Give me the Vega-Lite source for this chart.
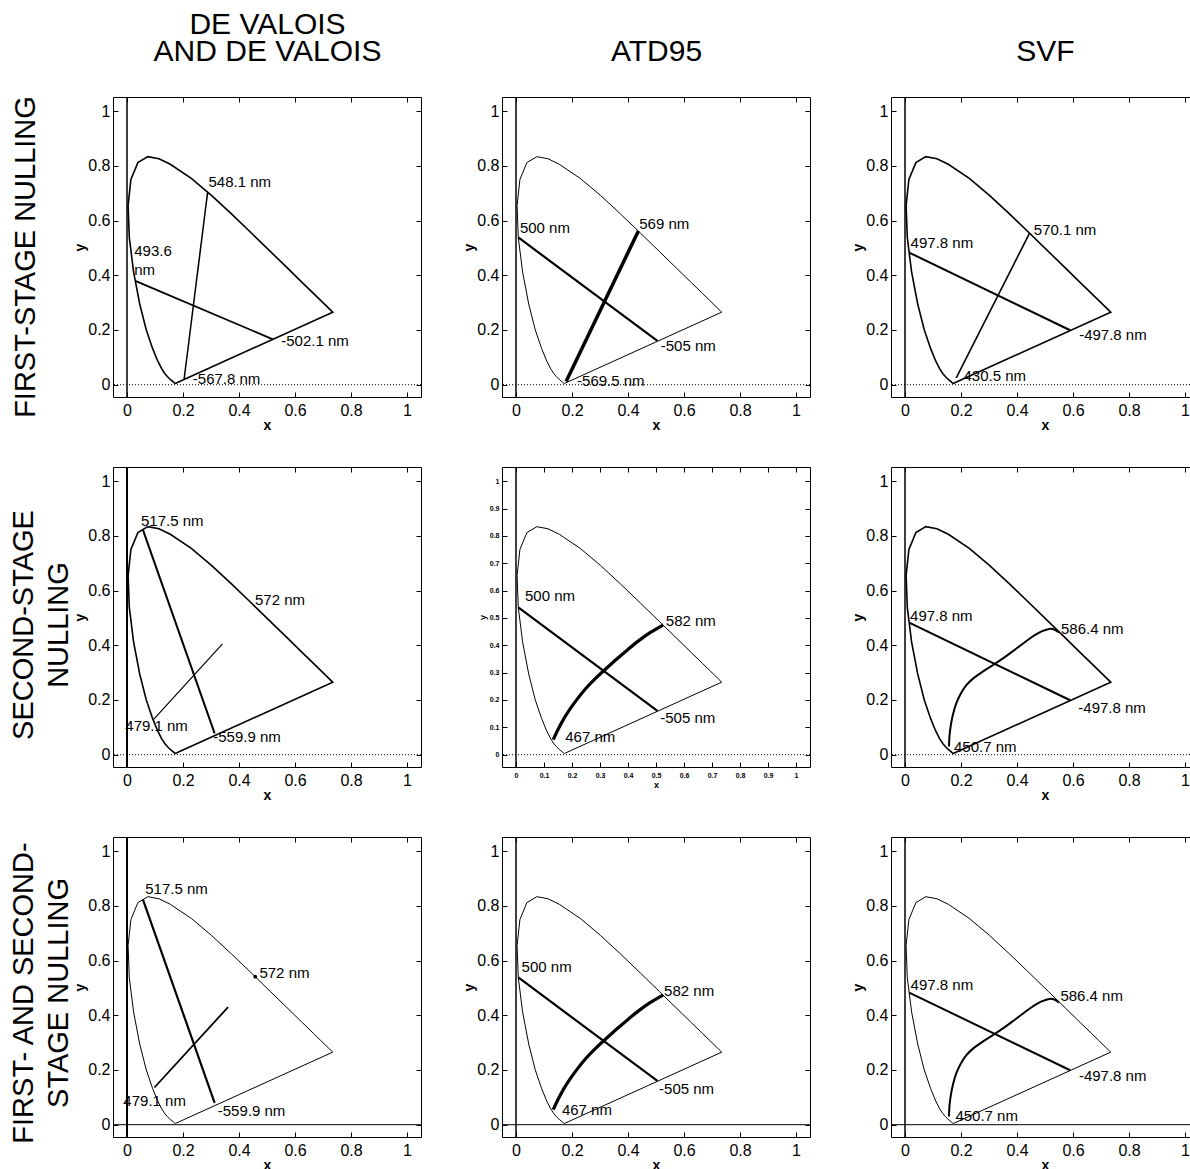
{
  "$schema": "https://vega.github.io/schema/vega-lite/v6.json",
  "background": "white",
  "padding": {"top": 9, "left": 9, "right": 0, "bottom": 0},
  "config": {
    "font": "Liberation Sans",
    "view": {"stroke": "black", "strokeWidth": 1},
    "axis": {"grid": false, "domain": false, "ticks": true, "tickColor": "black", "tickSize": -5, "tickWidth": 1,
      "labelColor": "black", "labelFont": "Liberation Sans", "labelFontSize": 16, "labelPadding": 10, "labelFlush": false, "labelOverlap": false,
      "titleFont": "Liberation Sans", "titleFontSize": 14, "titleFontWeight": "bold", "titleColor": "black", "titlePadding": 4},
    "axisLeft": {"labelPadding": 8, "titlePadding": 0},
    "axisBottom": {"titlePadding": 0},
    "title": {"font": "Liberation Sans", "fontSize": 29, "fontWeight": "normal", "color": "black", "lineHeight": 35}
  },
  "datasets": {
    "zero": [{"v": 0}],
    "locus": [
      {"order": 1, "wl": 380, "x": 0.1741, "y": 0.0050},
      {"order": 2, "wl": 400, "x": 0.1733, "y": 0.0048},
      {"order": 3, "wl": 420, "x": 0.1714, "y": 0.0051},
      {"order": 4, "wl": 430, "x": 0.1689, "y": 0.0069},
      {"order": 5, "wl": 440, "x": 0.1644, "y": 0.0109},
      {"order": 6, "wl": 450, "x": 0.1566, "y": 0.0177},
      {"order": 7, "wl": 455, "x": 0.1510, "y": 0.0227},
      {"order": 8, "wl": 460, "x": 0.1440, "y": 0.0297},
      {"order": 9, "wl": 465, "x": 0.1355, "y": 0.0399},
      {"order": 10, "wl": 470, "x": 0.1241, "y": 0.0578},
      {"order": 11, "wl": 475, "x": 0.1096, "y": 0.0868},
      {"order": 12, "wl": 480, "x": 0.0913, "y": 0.1327},
      {"order": 13, "wl": 485, "x": 0.0687, "y": 0.2007},
      {"order": 14, "wl": 490, "x": 0.0454, "y": 0.2950},
      {"order": 15, "wl": 495, "x": 0.0235, "y": 0.4127},
      {"order": 16, "wl": 500, "x": 0.0082, "y": 0.5384},
      {"order": 17, "wl": 505, "x": 0.0039, "y": 0.6548},
      {"order": 18, "wl": 510, "x": 0.0139, "y": 0.7502},
      {"order": 19, "wl": 515, "x": 0.0389, "y": 0.8120},
      {"order": 20, "wl": 520, "x": 0.0743, "y": 0.8338},
      {"order": 21, "wl": 525, "x": 0.1142, "y": 0.8262},
      {"order": 22, "wl": 530, "x": 0.1547, "y": 0.8059},
      {"order": 23, "wl": 540, "x": 0.2296, "y": 0.7543},
      {"order": 24, "wl": 550, "x": 0.3016, "y": 0.6923},
      {"order": 25, "wl": 560, "x": 0.3731, "y": 0.6245},
      {"order": 26, "wl": 570, "x": 0.4441, "y": 0.5547},
      {"order": 27, "wl": 580, "x": 0.5125, "y": 0.4866},
      {"order": 28, "wl": 590, "x": 0.5752, "y": 0.4242},
      {"order": 29, "wl": 600, "x": 0.6270, "y": 0.3725},
      {"order": 30, "wl": 610, "x": 0.6658, "y": 0.3340},
      {"order": 31, "wl": 620, "x": 0.6915, "y": 0.3083},
      {"order": 32, "wl": 640, "x": 0.7190, "y": 0.2809},
      {"order": 33, "wl": 660, "x": 0.7300, "y": 0.2700},
      {"order": 34, "wl": 700, "x": 0.7347, "y": 0.2653},
      {"order": 35, "wl": 380, "x": 0.1741, "y": 0.0050}
    ],
    "lines": [
      {"line": "dv1_a", "order": 1, "x": 0.0296, "y": 0.3797}, {"line": "dv1_a", "order": 2, "x": 0.521, "y": 0.166},
      {"line": "dv1_b", "order": 1, "x": 0.288, "y": 0.7045}, {"line": "dv1_b", "order": 2, "x": 0.204, "y": 0.020},
      {"line": "atd1_a", "order": 1, "x": 0.0082, "y": 0.5384}, {"line": "atd1_a", "order": 2, "x": 0.505, "y": 0.160},
      {"line": "atd1_b", "order": 1, "x": 0.437, "y": 0.562}, {"line": "atd1_b", "order": 2, "x": 0.179, "y": 0.012},
      {"line": "svf1_a", "order": 1, "x": 0.0149, "y": 0.4831}, {"line": "svf1_a", "order": 2, "x": 0.590, "y": 0.199},
      {"line": "svf1_b", "order": 1, "x": 0.4448, "y": 0.554}, {"line": "svf1_b", "order": 2, "x": 0.183, "y": 0.025},
      {"line": "dv2_a", "order": 1, "x": 0.0566, "y": 0.8229}, {"line": "dv2_a", "order": 2, "x": 0.313, "y": 0.078},
      {"line": "dv2_b", "order": 1, "x": 0.096, "y": 0.130}, {"line": "dv2_b", "order": 2, "x": 0.341, "y": 0.405},
      {"line": "atd2_a", "order": 1, "x": 0.0082, "y": 0.5384}, {"line": "atd2_a", "order": 2, "x": 0.505, "y": 0.160},
      {"line": "atd2_b", "order": 1, "x": 0.133, "y": 0.055},
      {"line": "atd2_b", "order": 2, "x": 0.150, "y": 0.092},
      {"line": "atd2_b", "order": 3, "x": 0.170, "y": 0.130},
      {"line": "atd2_b", "order": 4, "x": 0.195, "y": 0.170},
      {"line": "atd2_b", "order": 5, "x": 0.220, "y": 0.205},
      {"line": "atd2_b", "order": 6, "x": 0.250, "y": 0.243},
      {"line": "atd2_b", "order": 7, "x": 0.285, "y": 0.280},
      {"line": "atd2_b", "order": 8, "x": 0.322, "y": 0.315},
      {"line": "atd2_b", "order": 9, "x": 0.360, "y": 0.350},
      {"line": "atd2_b", "order": 10, "x": 0.400, "y": 0.385},
      {"line": "atd2_b", "order": 11, "x": 0.440, "y": 0.418},
      {"line": "atd2_b", "order": 12, "x": 0.480, "y": 0.447},
      {"line": "atd2_b", "order": 13, "x": 0.525, "y": 0.474},
      {"line": "svf2_a", "order": 1, "x": 0.0149, "y": 0.4831}, {"line": "svf2_a", "order": 2, "x": 0.590, "y": 0.199},
      {"line": "svf2_b", "order": 1, "x": 0.157, "y": 0.030},
      {"line": "svf2_b", "order": 2, "x": 0.159, "y": 0.070},
      {"line": "svf2_b", "order": 3, "x": 0.164, "y": 0.110},
      {"line": "svf2_b", "order": 4, "x": 0.172, "y": 0.150},
      {"line": "svf2_b", "order": 5, "x": 0.184, "y": 0.190},
      {"line": "svf2_b", "order": 6, "x": 0.200, "y": 0.225},
      {"line": "svf2_b", "order": 7, "x": 0.220, "y": 0.255},
      {"line": "svf2_b", "order": 8, "x": 0.245, "y": 0.280},
      {"line": "svf2_b", "order": 9, "x": 0.275, "y": 0.302},
      {"line": "svf2_b", "order": 10, "x": 0.310, "y": 0.325},
      {"line": "svf2_b", "order": 11, "x": 0.350, "y": 0.352},
      {"line": "svf2_b", "order": 12, "x": 0.390, "y": 0.382},
      {"line": "svf2_b", "order": 13, "x": 0.430, "y": 0.413},
      {"line": "svf2_b", "order": 14, "x": 0.465, "y": 0.438},
      {"line": "svf2_b", "order": 15, "x": 0.490, "y": 0.452},
      {"line": "svf2_b", "order": 16, "x": 0.515, "y": 0.460},
      {"line": "svf2_b", "order": 17, "x": 0.533, "y": 0.458},
      {"line": "svf2_b", "order": 18, "x": 0.550, "y": 0.447},
      {"line": "dv3_a", "order": 1, "x": 0.057, "y": 0.823}, {"line": "dv3_a", "order": 2, "x": 0.313, "y": 0.080},
      {"line": "dv3_b", "order": 1, "x": 0.098, "y": 0.136}, {"line": "dv3_b", "order": 2, "x": 0.361, "y": 0.430}
    ],
    "dots": [{"panel": "p7", "x": 0.458, "y": 0.541}],
    "labels": [
      {"panel": "p1", "text": "548.1 nm", "x": 0.291, "y": 0.740},
      {"panel": "p1", "text": "493.6", "x": 0.026, "y": 0.488},
      {"panel": "p1", "text": "nm", "x": 0.026, "y": 0.421},
      {"panel": "p1", "text": "-502.1 nm", "x": 0.551, "y": 0.161},
      {"panel": "p1", "text": "-567.8 nm", "x": 0.235, "y": 0.021},
      {"panel": "p2", "text": "500 nm", "x": 0.014, "y": 0.572},
      {"panel": "p2", "text": "569 nm", "x": 0.44, "y": 0.588},
      {"panel": "p2", "text": "-505 nm", "x": 0.517, "y": 0.140},
      {"panel": "p2", "text": "-569.5 nm", "x": 0.218, "y": 0.012},
      {"panel": "p3", "text": "570.1 nm", "x": 0.46, "y": 0.566},
      {"panel": "p3", "text": "497.8 nm", "x": 0.02, "y": 0.517},
      {"panel": "p3", "text": "-497.8 nm", "x": 0.622, "y": 0.182},
      {"panel": "p3", "text": "430.5 nm", "x": 0.209, "y": 0.033},
      {"panel": "p4", "text": "517.5 nm", "x": 0.05, "y": 0.854},
      {"panel": "p4", "text": "572 nm", "x": 0.457, "y": 0.566},
      {"panel": "p4", "text": "479.1 nm", "x": -0.006, "y": 0.106},
      {"panel": "p4", "text": "-559.9 nm", "x": 0.308, "y": 0.066},
      {"panel": "p5", "text": "500 nm", "x": 0.032, "y": 0.579},
      {"panel": "p5", "text": "582 nm", "x": 0.535, "y": 0.49},
      {"panel": "p5", "text": "-505 nm", "x": 0.515, "y": 0.136},
      {"panel": "p5", "text": "467 nm", "x": 0.176, "y": 0.063},
      {"panel": "p6", "text": "497.8 nm", "x": 0.018, "y": 0.506},
      {"panel": "p6", "text": "586.4 nm", "x": 0.557, "y": 0.46},
      {"panel": "p6", "text": "-497.8 nm", "x": 0.619, "y": 0.171},
      {"panel": "p6", "text": "450.7 nm", "x": 0.175, "y": 0.027},
      {"panel": "p7", "text": "517.5 nm", "x": 0.065, "y": 0.863},
      {"panel": "p7", "text": "572 nm", "x": 0.473, "y": 0.555},
      {"panel": "p7", "text": "479.1 nm", "x": -0.013, "y": 0.085},
      {"panel": "p7", "text": "-559.9 nm", "x": 0.324, "y": 0.049},
      {"panel": "p8", "text": "500 nm", "x": 0.02, "y": 0.577},
      {"panel": "p8", "text": "582 nm", "x": 0.529, "y": 0.488},
      {"panel": "p8", "text": "-505 nm", "x": 0.511, "y": 0.130},
      {"panel": "p8", "text": "467 nm", "x": 0.164, "y": 0.055},
      {"panel": "p9", "text": "497.8 nm", "x": 0.02, "y": 0.512},
      {"panel": "p9", "text": "586.4 nm", "x": 0.555, "y": 0.469},
      {"panel": "p9", "text": "-497.8 nm", "x": 0.621, "y": 0.179},
      {"panel": "p9", "text": "450.7 nm", "x": 0.18, "y": 0.03}
    ]
  },
  "columns": 3,
  "bounds": "flush",
  "spacing": {"row": 70, "column": 81},
  "concat": [
    {
      "width": 308, "height": 300,
      "title": {"text": "FIRST-STAGE NULLING", "orient": "left", "frame": "group", "anchor": "middle", "offset": 33, "dx": -10},
      "layer": [
        {"data": {"name": "locus"}, "mark": {"type": "line", "color": "black", "strokeWidth": 1.6},
         "encoding": {"x": {"field": "x", "type": "quantitative", "scale": {"domain": [-0.05, 1.05], "nice": false, "zero": false}, "axis": {"orient": "bottom", "values": [0, 0.2, 0.4, 0.6, 0.8, 1], "format": "~g", "title": "x"}},
                      "y": {"field": "y", "type": "quantitative", "scale": {"domain": [-0.045, 1.052], "nice": false, "zero": false}, "axis": {"orient": "left", "values": [0, 0.2, 0.4, 0.6, 0.8, 1], "format": "~g", "title": "y"}},
                      "order": {"field": "order"}}},
        {"data": {"name": "zero"}, "mark": {"type": "rule", "color": "black", "strokeWidth": 1.5},
         "encoding": {"x": {"field": "v", "type": "quantitative", "scale": {"domain": [-0.05, 1.05], "nice": false, "zero": false}, "axis": {"orient": "top", "values": [0, 0.2, 0.4, 0.6, 0.8, 1], "labels": false, "title": ["DE VALOIS", "AND DE VALOIS"], "titleFontSize": 30, "titleFontWeight": "normal", "titleLineHeight": 27, "titlePadding": 30}}}},
        {"data": {"name": "zero"}, "mark": {"type": "rule", "color": "black", "strokeWidth": 1, "strokeDash": [1, 2]},
         "encoding": {"y": {"field": "v", "type": "quantitative", "scale": {"domain": [-0.045, 1.052], "nice": false, "zero": false}, "axis": {"orient": "right", "values": [0, 0.2, 0.4, 0.6, 0.8, 1], "labels": false, "title": null}}}},
        {"data": {"name": "lines"}, "transform": [{"filter": "datum.line == 'dv1_a'"}], "mark": {"type": "line", "color": "black", "strokeWidth": 1.8},
         "encoding": {"x": {"field": "x", "type": "quantitative", "scale": {"domain": [-0.05, 1.05], "nice": false, "zero": false}, "axis": null}, "y": {"field": "y", "type": "quantitative", "scale": {"domain": [-0.045, 1.052], "nice": false, "zero": false}, "axis": null}, "order": {"field": "order"}}},
        {"data": {"name": "lines"}, "transform": [{"filter": "datum.line == 'dv1_b'"}], "mark": {"type": "line", "color": "black", "strokeWidth": 1.5},
         "encoding": {"x": {"field": "x", "type": "quantitative", "scale": {"domain": [-0.05, 1.05], "nice": false, "zero": false}, "axis": null}, "y": {"field": "y", "type": "quantitative", "scale": {"domain": [-0.045, 1.052], "nice": false, "zero": false}, "axis": null}, "order": {"field": "order"}}},
        {"data": {"name": "labels"}, "transform": [{"filter": "datum.panel == 'p1'"}], "mark": {"type": "text", "align": "left", "baseline": "middle", "fontSize": 15, "color": "black"},
         "encoding": {"x": {"field": "x", "type": "quantitative", "scale": {"domain": [-0.05, 1.05], "nice": false, "zero": false}, "axis": null}, "y": {"field": "y", "type": "quantitative", "scale": {"domain": [-0.045, 1.052], "nice": false, "zero": false}, "axis": null}, "text": {"field": "text"}}}
      ],
      "resolve": {"axis": {"x": "independent", "y": "independent"}}
    },
    {
      "width": 308, "height": 300,
      "layer": [
        {"data": {"name": "locus"}, "mark": {"type": "line", "color": "black", "strokeWidth": 1},
         "encoding": {"x": {"field": "x", "type": "quantitative", "scale": {"domain": [-0.05, 1.05], "nice": false, "zero": false}, "axis": {"orient": "bottom", "values": [0, 0.2, 0.4, 0.6, 0.8, 1], "format": "~g", "title": "x"}},
                      "y": {"field": "y", "type": "quantitative", "scale": {"domain": [-0.045, 1.052], "nice": false, "zero": false}, "axis": {"orient": "left", "values": [0, 0.2, 0.4, 0.6, 0.8, 1], "format": "~g", "title": "y"}},
                      "order": {"field": "order"}}},
        {"data": {"name": "zero"}, "mark": {"type": "rule", "color": "black", "strokeWidth": 1.5},
         "encoding": {"x": {"field": "v", "type": "quantitative", "scale": {"domain": [-0.05, 1.05], "nice": false, "zero": false}, "axis": {"orient": "top", "values": [0, 0.2, 0.4, 0.6, 0.8, 1], "labels": false, "title": "ATD95", "titleFontSize": 30, "titleFontWeight": "normal", "titleLineHeight": 27, "titlePadding": 30}}}},
        {"data": {"name": "zero"}, "mark": {"type": "rule", "color": "black", "strokeWidth": 1, "strokeDash": [1, 2]},
         "encoding": {"y": {"field": "v", "type": "quantitative", "scale": {"domain": [-0.045, 1.052], "nice": false, "zero": false}, "axis": {"orient": "right", "values": [0, 0.2, 0.4, 0.6, 0.8, 1], "labels": false, "title": null}}}},
        {"data": {"name": "lines"}, "transform": [{"filter": "datum.line == 'atd1_a'"}], "mark": {"type": "line", "color": "black", "strokeWidth": 2.2},
         "encoding": {"x": {"field": "x", "type": "quantitative", "scale": {"domain": [-0.05, 1.05], "nice": false, "zero": false}, "axis": null}, "y": {"field": "y", "type": "quantitative", "scale": {"domain": [-0.045, 1.052], "nice": false, "zero": false}, "axis": null}, "order": {"field": "order"}}},
        {"data": {"name": "lines"}, "transform": [{"filter": "datum.line == 'atd1_b'"}], "mark": {"type": "line", "color": "black", "strokeWidth": 3.5},
         "encoding": {"x": {"field": "x", "type": "quantitative", "scale": {"domain": [-0.05, 1.05], "nice": false, "zero": false}, "axis": null}, "y": {"field": "y", "type": "quantitative", "scale": {"domain": [-0.045, 1.052], "nice": false, "zero": false}, "axis": null}, "order": {"field": "order"}}},
        {"data": {"name": "labels"}, "transform": [{"filter": "datum.panel == 'p2'"}], "mark": {"type": "text", "align": "left", "baseline": "middle", "fontSize": 15, "color": "black"},
         "encoding": {"x": {"field": "x", "type": "quantitative", "scale": {"domain": [-0.05, 1.05], "nice": false, "zero": false}, "axis": null}, "y": {"field": "y", "type": "quantitative", "scale": {"domain": [-0.045, 1.052], "nice": false, "zero": false}, "axis": null}, "text": {"field": "text"}}}
      ],
      "resolve": {"axis": {"x": "independent", "y": "independent"}}
    },
    {
      "width": 308, "height": 300,
      "layer": [
        {"data": {"name": "locus"}, "mark": {"type": "line", "color": "black", "strokeWidth": 1.6},
         "encoding": {"x": {"field": "x", "type": "quantitative", "scale": {"domain": [-0.05, 1.05], "nice": false, "zero": false}, "axis": {"orient": "bottom", "values": [0, 0.2, 0.4, 0.6, 0.8, 1], "format": "~g", "title": "x"}},
                      "y": {"field": "y", "type": "quantitative", "scale": {"domain": [-0.045, 1.052], "nice": false, "zero": false}, "axis": {"orient": "left", "values": [0, 0.2, 0.4, 0.6, 0.8, 1], "format": "~g", "title": "y"}},
                      "order": {"field": "order"}}},
        {"data": {"name": "zero"}, "mark": {"type": "rule", "color": "black", "strokeWidth": 1.5},
         "encoding": {"x": {"field": "v", "type": "quantitative", "scale": {"domain": [-0.05, 1.05], "nice": false, "zero": false}, "axis": {"orient": "top", "values": [0, 0.2, 0.4, 0.6, 0.8, 1], "labels": false, "title": "SVF", "titleFontSize": 30, "titleFontWeight": "normal", "titleLineHeight": 27, "titlePadding": 30}}}},
        {"data": {"name": "zero"}, "mark": {"type": "rule", "color": "black", "strokeWidth": 1, "strokeDash": [1, 2]},
         "encoding": {"y": {"field": "v", "type": "quantitative", "scale": {"domain": [-0.045, 1.052], "nice": false, "zero": false}, "axis": {"orient": "right", "values": [0, 0.2, 0.4, 0.6, 0.8, 1], "labels": false, "title": null}}}},
        {"data": {"name": "lines"}, "transform": [{"filter": "datum.line == 'svf1_a'"}], "mark": {"type": "line", "color": "black", "strokeWidth": 2},
         "encoding": {"x": {"field": "x", "type": "quantitative", "scale": {"domain": [-0.05, 1.05], "nice": false, "zero": false}, "axis": null}, "y": {"field": "y", "type": "quantitative", "scale": {"domain": [-0.045, 1.052], "nice": false, "zero": false}, "axis": null}, "order": {"field": "order"}}},
        {"data": {"name": "lines"}, "transform": [{"filter": "datum.line == 'svf1_b'"}], "mark": {"type": "line", "color": "black", "strokeWidth": 1.6},
         "encoding": {"x": {"field": "x", "type": "quantitative", "scale": {"domain": [-0.05, 1.05], "nice": false, "zero": false}, "axis": null}, "y": {"field": "y", "type": "quantitative", "scale": {"domain": [-0.045, 1.052], "nice": false, "zero": false}, "axis": null}, "order": {"field": "order"}}},
        {"data": {"name": "labels"}, "transform": [{"filter": "datum.panel == 'p3'"}], "mark": {"type": "text", "align": "left", "baseline": "middle", "fontSize": 15, "color": "black"},
         "encoding": {"x": {"field": "x", "type": "quantitative", "scale": {"domain": [-0.05, 1.05], "nice": false, "zero": false}, "axis": null}, "y": {"field": "y", "type": "quantitative", "scale": {"domain": [-0.045, 1.052], "nice": false, "zero": false}, "axis": null}, "text": {"field": "text"}}}
      ],
      "resolve": {"axis": {"x": "independent", "y": "independent"}}
    },
    {
      "width": 308, "height": 300,
      "title": {"text": ["SECOND-STAGE", "NULLING"], "orient": "left", "frame": "group", "anchor": "middle", "offset": 0, "dx": -8},
      "layer": [
        {"data": {"name": "locus"}, "mark": {"type": "line", "color": "black", "strokeWidth": 1.6},
         "encoding": {"x": {"field": "x", "type": "quantitative", "scale": {"domain": [-0.05, 1.05], "nice": false, "zero": false}, "axis": {"orient": "bottom", "values": [0, 0.2, 0.4, 0.6, 0.8, 1], "format": "~g", "title": "x"}},
                      "y": {"field": "y", "type": "quantitative", "scale": {"domain": [-0.045, 1.052], "nice": false, "zero": false}, "axis": {"orient": "left", "values": [0, 0.2, 0.4, 0.6, 0.8, 1], "format": "~g", "title": "y"}},
                      "order": {"field": "order"}}},
        {"data": {"name": "zero"}, "mark": {"type": "rule", "color": "black", "strokeWidth": 2},
         "encoding": {"x": {"field": "v", "type": "quantitative", "scale": {"domain": [-0.05, 1.05], "nice": false, "zero": false}, "axis": {"orient": "top", "values": [0, 0.2, 0.4, 0.6, 0.8, 1], "labels": false, "title": null}}}},
        {"data": {"name": "zero"}, "mark": {"type": "rule", "color": "black", "strokeWidth": 1, "strokeDash": [1, 2]},
         "encoding": {"y": {"field": "v", "type": "quantitative", "scale": {"domain": [-0.045, 1.052], "nice": false, "zero": false}, "axis": {"orient": "right", "values": [0, 0.2, 0.4, 0.6, 0.8, 1], "labels": false, "title": null}}}},
        {"data": {"name": "lines"}, "transform": [{"filter": "datum.line == 'dv2_a'"}], "mark": {"type": "line", "color": "black", "strokeWidth": 2},
         "encoding": {"x": {"field": "x", "type": "quantitative", "scale": {"domain": [-0.05, 1.05], "nice": false, "zero": false}, "axis": null}, "y": {"field": "y", "type": "quantitative", "scale": {"domain": [-0.045, 1.052], "nice": false, "zero": false}, "axis": null}, "order": {"field": "order"}}},
        {"data": {"name": "lines"}, "transform": [{"filter": "datum.line == 'dv2_b'"}], "mark": {"type": "line", "color": "black", "strokeWidth": 1.2},
         "encoding": {"x": {"field": "x", "type": "quantitative", "scale": {"domain": [-0.05, 1.05], "nice": false, "zero": false}, "axis": null}, "y": {"field": "y", "type": "quantitative", "scale": {"domain": [-0.045, 1.052], "nice": false, "zero": false}, "axis": null}, "order": {"field": "order"}}},
        {"data": {"name": "labels"}, "transform": [{"filter": "datum.panel == 'p4'"}], "mark": {"type": "text", "align": "left", "baseline": "middle", "fontSize": 15, "color": "black"},
         "encoding": {"x": {"field": "x", "type": "quantitative", "scale": {"domain": [-0.05, 1.05], "nice": false, "zero": false}, "axis": null}, "y": {"field": "y", "type": "quantitative", "scale": {"domain": [-0.045, 1.052], "nice": false, "zero": false}, "axis": null}, "text": {"field": "text"}}}
      ],
      "resolve": {"axis": {"x": "independent", "y": "independent"}}
    },
    {
      "width": 308, "height": 300,
      "layer": [
        {"data": {"name": "locus"}, "mark": {"type": "line", "color": "black", "strokeWidth": 1},
         "encoding": {"x": {"field": "x", "type": "quantitative", "scale": {"domain": [-0.05, 1.05], "nice": false, "zero": false}, "axis": {"orient": "bottom", "values": [0, 0.1, 0.2, 0.3, 0.4, 0.5, 0.6, 0.7, 0.8, 0.9, 1], "format": "~g", "title": "x", "labelFontSize": 7, "labelFontWeight": "bold", "labelPadding": 9, "titleFontSize": 9, "titlePadding": 2}},
                      "y": {"field": "y", "type": "quantitative", "scale": {"domain": [-0.045, 1.052], "nice": false, "zero": false}, "axis": {"orient": "left", "values": [0, 0.1, 0.2, 0.3, 0.4, 0.5, 0.6, 0.7, 0.8, 0.9, 1], "format": "~g", "title": "y", "labelFontSize": 7, "labelFontWeight": "bold", "labelPadding": 8, "titleFontSize": 9, "titlePadding": 2}},
                      "order": {"field": "order"}}},
        {"data": {"name": "zero"}, "mark": {"type": "rule", "color": "black", "strokeWidth": 1.5},
         "encoding": {"x": {"field": "v", "type": "quantitative", "scale": {"domain": [-0.05, 1.05], "nice": false, "zero": false}, "axis": {"orient": "top", "values": [0, 0.1, 0.2, 0.3, 0.4, 0.5, 0.6, 0.7, 0.8, 0.9, 1], "labels": false, "title": null}}}},
        {"data": {"name": "zero"}, "mark": {"type": "rule", "color": "black", "strokeWidth": 1, "strokeDash": [1, 2]},
         "encoding": {"y": {"field": "v", "type": "quantitative", "scale": {"domain": [-0.045, 1.052], "nice": false, "zero": false}, "axis": {"orient": "right", "values": [0, 0.1, 0.2, 0.3, 0.4, 0.5, 0.6, 0.7, 0.8, 0.9, 1], "labels": false, "title": null}}}},
        {"data": {"name": "lines"}, "transform": [{"filter": "datum.line == 'atd2_a'"}], "mark": {"type": "line", "color": "black", "strokeWidth": 2.2},
         "encoding": {"x": {"field": "x", "type": "quantitative", "scale": {"domain": [-0.05, 1.05], "nice": false, "zero": false}, "axis": null}, "y": {"field": "y", "type": "quantitative", "scale": {"domain": [-0.045, 1.052], "nice": false, "zero": false}, "axis": null}, "order": {"field": "order"}}},
        {"data": {"name": "lines"}, "transform": [{"filter": "datum.line == 'atd2_b'"}], "mark": {"type": "line", "color": "black", "strokeWidth": 3.2, "interpolate": "catmull-rom"},
         "encoding": {"x": {"field": "x", "type": "quantitative", "scale": {"domain": [-0.05, 1.05], "nice": false, "zero": false}, "axis": null}, "y": {"field": "y", "type": "quantitative", "scale": {"domain": [-0.045, 1.052], "nice": false, "zero": false}, "axis": null}, "order": {"field": "order"}}},
        {"data": {"name": "labels"}, "transform": [{"filter": "datum.panel == 'p5'"}], "mark": {"type": "text", "align": "left", "baseline": "middle", "fontSize": 15, "color": "black"},
         "encoding": {"x": {"field": "x", "type": "quantitative", "scale": {"domain": [-0.05, 1.05], "nice": false, "zero": false}, "axis": null}, "y": {"field": "y", "type": "quantitative", "scale": {"domain": [-0.045, 1.052], "nice": false, "zero": false}, "axis": null}, "text": {"field": "text"}}}
      ],
      "resolve": {"axis": {"x": "independent", "y": "independent"}}
    },
    {
      "width": 308, "height": 300,
      "layer": [
        {"data": {"name": "locus"}, "mark": {"type": "line", "color": "black", "strokeWidth": 1.6},
         "encoding": {"x": {"field": "x", "type": "quantitative", "scale": {"domain": [-0.05, 1.05], "nice": false, "zero": false}, "axis": {"orient": "bottom", "values": [0, 0.2, 0.4, 0.6, 0.8, 1], "format": "~g", "title": "x"}},
                      "y": {"field": "y", "type": "quantitative", "scale": {"domain": [-0.045, 1.052], "nice": false, "zero": false}, "axis": {"orient": "left", "values": [0, 0.2, 0.4, 0.6, 0.8, 1], "format": "~g", "title": "y"}},
                      "order": {"field": "order"}}},
        {"data": {"name": "zero"}, "mark": {"type": "rule", "color": "black", "strokeWidth": 1.5},
         "encoding": {"x": {"field": "v", "type": "quantitative", "scale": {"domain": [-0.05, 1.05], "nice": false, "zero": false}, "axis": {"orient": "top", "values": [0, 0.2, 0.4, 0.6, 0.8, 1], "labels": false, "title": null}}}},
        {"data": {"name": "zero"}, "mark": {"type": "rule", "color": "black", "strokeWidth": 1, "strokeDash": [1, 2]},
         "encoding": {"y": {"field": "v", "type": "quantitative", "scale": {"domain": [-0.045, 1.052], "nice": false, "zero": false}, "axis": {"orient": "right", "values": [0, 0.2, 0.4, 0.6, 0.8, 1], "labels": false, "title": null}}}},
        {"data": {"name": "lines"}, "transform": [{"filter": "datum.line == 'svf2_a'"}], "mark": {"type": "line", "color": "black", "strokeWidth": 2},
         "encoding": {"x": {"field": "x", "type": "quantitative", "scale": {"domain": [-0.05, 1.05], "nice": false, "zero": false}, "axis": null}, "y": {"field": "y", "type": "quantitative", "scale": {"domain": [-0.045, 1.052], "nice": false, "zero": false}, "axis": null}, "order": {"field": "order"}}},
        {"data": {"name": "lines"}, "transform": [{"filter": "datum.line == 'svf2_b'"}], "mark": {"type": "line", "color": "black", "strokeWidth": 2, "interpolate": "catmull-rom"},
         "encoding": {"x": {"field": "x", "type": "quantitative", "scale": {"domain": [-0.05, 1.05], "nice": false, "zero": false}, "axis": null}, "y": {"field": "y", "type": "quantitative", "scale": {"domain": [-0.045, 1.052], "nice": false, "zero": false}, "axis": null}, "order": {"field": "order"}}},
        {"data": {"name": "labels"}, "transform": [{"filter": "datum.panel == 'p6'"}], "mark": {"type": "text", "align": "left", "baseline": "middle", "fontSize": 15, "color": "black"},
         "encoding": {"x": {"field": "x", "type": "quantitative", "scale": {"domain": [-0.05, 1.05], "nice": false, "zero": false}, "axis": null}, "y": {"field": "y", "type": "quantitative", "scale": {"domain": [-0.045, 1.052], "nice": false, "zero": false}, "axis": null}, "text": {"field": "text"}}}
      ],
      "resolve": {"axis": {"x": "independent", "y": "independent"}}
    },
    {
      "width": 308, "height": 300,
      "title": {"text": ["FIRST- AND SECOND-", "STAGE NULLING"], "orient": "left", "frame": "group", "anchor": "middle", "offset": 0, "dx": -6},
      "layer": [
        {"data": {"name": "locus"}, "mark": {"type": "line", "color": "black", "strokeWidth": 1},
         "encoding": {"x": {"field": "x", "type": "quantitative", "scale": {"domain": [-0.05, 1.05], "nice": false, "zero": false}, "axis": {"orient": "bottom", "values": [0, 0.2, 0.4, 0.6, 0.8, 1], "format": "~g", "title": "x"}},
                      "y": {"field": "y", "type": "quantitative", "scale": {"domain": [-0.045, 1.052], "nice": false, "zero": false}, "axis": {"orient": "left", "values": [0, 0.2, 0.4, 0.6, 0.8, 1], "format": "~g", "title": "y"}},
                      "order": {"field": "order"}}},
        {"data": {"name": "zero"}, "mark": {"type": "rule", "color": "black", "strokeWidth": 2},
         "encoding": {"x": {"field": "v", "type": "quantitative", "scale": {"domain": [-0.05, 1.05], "nice": false, "zero": false}, "axis": {"orient": "top", "values": [0, 0.2, 0.4, 0.6, 0.8, 1], "labels": false, "title": null}}}},
        {"data": {"name": "zero"}, "mark": {"type": "rule", "color": "black", "strokeWidth": 1},
         "encoding": {"y": {"field": "v", "type": "quantitative", "scale": {"domain": [-0.045, 1.052], "nice": false, "zero": false}, "axis": {"orient": "right", "values": [0, 0.2, 0.4, 0.6, 0.8, 1], "labels": false, "title": null}}}},
        {"data": {"name": "lines"}, "transform": [{"filter": "datum.line == 'dv3_a'"}], "mark": {"type": "line", "color": "black", "strokeWidth": 2.2},
         "encoding": {"x": {"field": "x", "type": "quantitative", "scale": {"domain": [-0.05, 1.05], "nice": false, "zero": false}, "axis": null}, "y": {"field": "y", "type": "quantitative", "scale": {"domain": [-0.045, 1.052], "nice": false, "zero": false}, "axis": null}, "order": {"field": "order"}}},
        {"data": {"name": "lines"}, "transform": [{"filter": "datum.line == 'dv3_b'"}], "mark": {"type": "line", "color": "black", "strokeWidth": 1.8},
         "encoding": {"x": {"field": "x", "type": "quantitative", "scale": {"domain": [-0.05, 1.05], "nice": false, "zero": false}, "axis": null}, "y": {"field": "y", "type": "quantitative", "scale": {"domain": [-0.045, 1.052], "nice": false, "zero": false}, "axis": null}, "order": {"field": "order"}}},
        {"data": {"name": "dots"}, "mark": {"type": "point", "filled": true, "color": "black", "size": 14, "opacity": 1},
         "encoding": {"x": {"field": "x", "type": "quantitative", "scale": {"domain": [-0.05, 1.05], "nice": false, "zero": false}, "axis": null}, "y": {"field": "y", "type": "quantitative", "scale": {"domain": [-0.045, 1.052], "nice": false, "zero": false}, "axis": null}}},
        {"data": {"name": "labels"}, "transform": [{"filter": "datum.panel == 'p7'"}], "mark": {"type": "text", "align": "left", "baseline": "middle", "fontSize": 15, "color": "black"},
         "encoding": {"x": {"field": "x", "type": "quantitative", "scale": {"domain": [-0.05, 1.05], "nice": false, "zero": false}, "axis": null}, "y": {"field": "y", "type": "quantitative", "scale": {"domain": [-0.045, 1.052], "nice": false, "zero": false}, "axis": null}, "text": {"field": "text"}}}
      ],
      "resolve": {"axis": {"x": "independent", "y": "independent"}}
    },
    {
      "width": 308, "height": 300,
      "layer": [
        {"data": {"name": "locus"}, "mark": {"type": "line", "color": "black", "strokeWidth": 1},
         "encoding": {"x": {"field": "x", "type": "quantitative", "scale": {"domain": [-0.05, 1.05], "nice": false, "zero": false}, "axis": {"orient": "bottom", "values": [0, 0.2, 0.4, 0.6, 0.8, 1], "format": "~g", "title": "x"}},
                      "y": {"field": "y", "type": "quantitative", "scale": {"domain": [-0.045, 1.052], "nice": false, "zero": false}, "axis": {"orient": "left", "values": [0, 0.2, 0.4, 0.6, 0.8, 1], "format": "~g", "title": "y"}},
                      "order": {"field": "order"}}},
        {"data": {"name": "zero"}, "mark": {"type": "rule", "color": "black", "strokeWidth": 1.5},
         "encoding": {"x": {"field": "v", "type": "quantitative", "scale": {"domain": [-0.05, 1.05], "nice": false, "zero": false}, "axis": {"orient": "top", "values": [0, 0.2, 0.4, 0.6, 0.8, 1], "labels": false, "title": null}}}},
        {"data": {"name": "zero"}, "mark": {"type": "rule", "color": "black", "strokeWidth": 1},
         "encoding": {"y": {"field": "v", "type": "quantitative", "scale": {"domain": [-0.045, 1.052], "nice": false, "zero": false}, "axis": {"orient": "right", "values": [0, 0.2, 0.4, 0.6, 0.8, 1], "labels": false, "title": null}}}},
        {"data": {"name": "lines"}, "transform": [{"filter": "datum.line == 'atd2_a'"}], "mark": {"type": "line", "color": "black", "strokeWidth": 2.2},
         "encoding": {"x": {"field": "x", "type": "quantitative", "scale": {"domain": [-0.05, 1.05], "nice": false, "zero": false}, "axis": null}, "y": {"field": "y", "type": "quantitative", "scale": {"domain": [-0.045, 1.052], "nice": false, "zero": false}, "axis": null}, "order": {"field": "order"}}},
        {"data": {"name": "lines"}, "transform": [{"filter": "datum.line == 'atd2_b'"}], "mark": {"type": "line", "color": "black", "strokeWidth": 3.2, "interpolate": "catmull-rom"},
         "encoding": {"x": {"field": "x", "type": "quantitative", "scale": {"domain": [-0.05, 1.05], "nice": false, "zero": false}, "axis": null}, "y": {"field": "y", "type": "quantitative", "scale": {"domain": [-0.045, 1.052], "nice": false, "zero": false}, "axis": null}, "order": {"field": "order"}}},
        {"data": {"name": "labels"}, "transform": [{"filter": "datum.panel == 'p8'"}], "mark": {"type": "text", "align": "left", "baseline": "middle", "fontSize": 15, "color": "black"},
         "encoding": {"x": {"field": "x", "type": "quantitative", "scale": {"domain": [-0.05, 1.05], "nice": false, "zero": false}, "axis": null}, "y": {"field": "y", "type": "quantitative", "scale": {"domain": [-0.045, 1.052], "nice": false, "zero": false}, "axis": null}, "text": {"field": "text"}}}
      ],
      "resolve": {"axis": {"x": "independent", "y": "independent"}}
    },
    {
      "width": 308, "height": 300,
      "layer": [
        {"data": {"name": "locus"}, "mark": {"type": "line", "color": "black", "strokeWidth": 1},
         "encoding": {"x": {"field": "x", "type": "quantitative", "scale": {"domain": [-0.05, 1.05], "nice": false, "zero": false}, "axis": {"orient": "bottom", "values": [0, 0.2, 0.4, 0.6, 0.8, 1], "format": "~g", "title": "x"}},
                      "y": {"field": "y", "type": "quantitative", "scale": {"domain": [-0.045, 1.052], "nice": false, "zero": false}, "axis": {"orient": "left", "values": [0, 0.2, 0.4, 0.6, 0.8, 1], "format": "~g", "title": "y"}},
                      "order": {"field": "order"}}},
        {"data": {"name": "zero"}, "mark": {"type": "rule", "color": "black", "strokeWidth": 1.5},
         "encoding": {"x": {"field": "v", "type": "quantitative", "scale": {"domain": [-0.05, 1.05], "nice": false, "zero": false}, "axis": {"orient": "top", "values": [0, 0.2, 0.4, 0.6, 0.8, 1], "labels": false, "title": null}}}},
        {"data": {"name": "zero"}, "mark": {"type": "rule", "color": "black", "strokeWidth": 1},
         "encoding": {"y": {"field": "v", "type": "quantitative", "scale": {"domain": [-0.045, 1.052], "nice": false, "zero": false}, "axis": {"orient": "right", "values": [0, 0.2, 0.4, 0.6, 0.8, 1], "labels": false, "title": null}}}},
        {"data": {"name": "lines"}, "transform": [{"filter": "datum.line == 'svf2_a'"}], "mark": {"type": "line", "color": "black", "strokeWidth": 2},
         "encoding": {"x": {"field": "x", "type": "quantitative", "scale": {"domain": [-0.05, 1.05], "nice": false, "zero": false}, "axis": null}, "y": {"field": "y", "type": "quantitative", "scale": {"domain": [-0.045, 1.052], "nice": false, "zero": false}, "axis": null}, "order": {"field": "order"}}},
        {"data": {"name": "lines"}, "transform": [{"filter": "datum.line == 'svf2_b'"}], "mark": {"type": "line", "color": "black", "strokeWidth": 2, "interpolate": "catmull-rom"},
         "encoding": {"x": {"field": "x", "type": "quantitative", "scale": {"domain": [-0.05, 1.05], "nice": false, "zero": false}, "axis": null}, "y": {"field": "y", "type": "quantitative", "scale": {"domain": [-0.045, 1.052], "nice": false, "zero": false}, "axis": null}, "order": {"field": "order"}}},
        {"data": {"name": "labels"}, "transform": [{"filter": "datum.panel == 'p9'"}], "mark": {"type": "text", "align": "left", "baseline": "middle", "fontSize": 15, "color": "black"},
         "encoding": {"x": {"field": "x", "type": "quantitative", "scale": {"domain": [-0.05, 1.05], "nice": false, "zero": false}, "axis": null}, "y": {"field": "y", "type": "quantitative", "scale": {"domain": [-0.045, 1.052], "nice": false, "zero": false}, "axis": null}, "text": {"field": "text"}}}
      ],
      "resolve": {"axis": {"x": "independent", "y": "independent"}}
    }
  ]
}
